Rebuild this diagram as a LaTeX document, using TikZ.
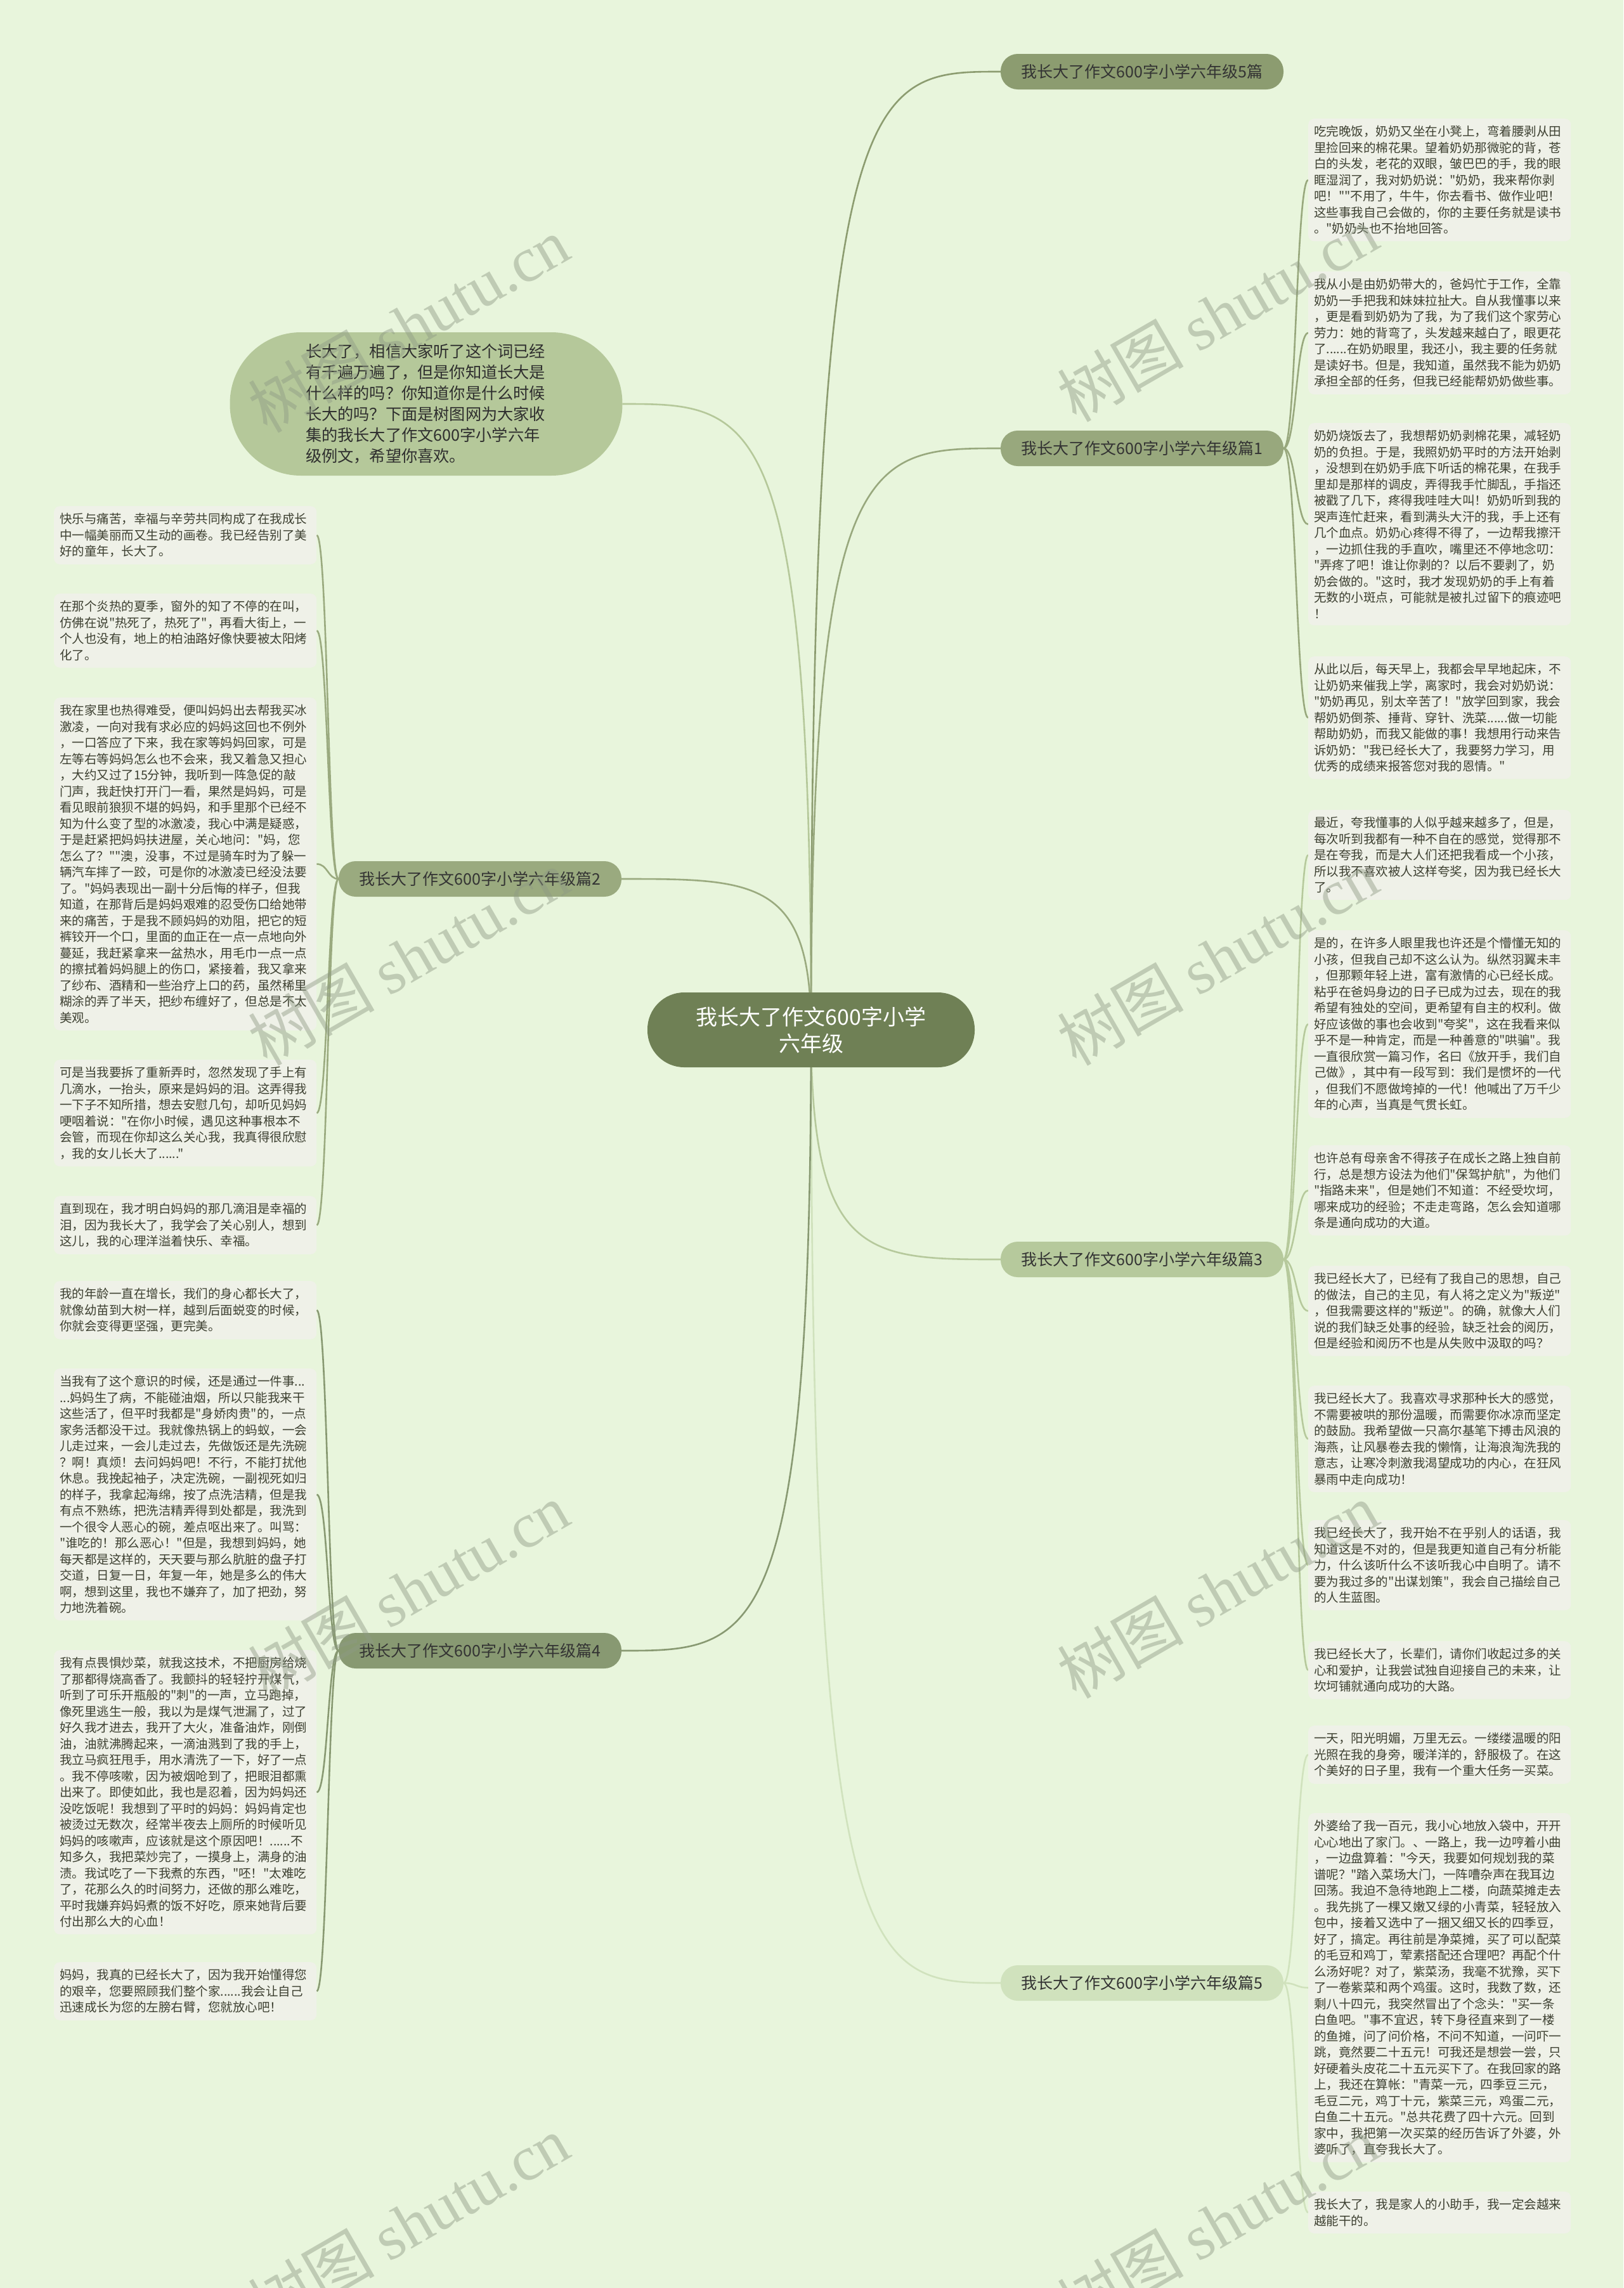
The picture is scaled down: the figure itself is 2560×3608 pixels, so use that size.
\documentclass[tikz,border=0pt]{standalone}
\usepackage{fontspec}
\setmainfont{Noto Sans CJK SC}[Ligatures=TeXOff]
\newfontfamily\wmlatin{Liberation Serif}
\usetikzlibrary{backgrounds}
\definecolor{bgc}{HTML}{E8F5DC}
\definecolor{leaffill}{HTML}{EFF1E8}
\definecolor{leaftext}{HTML}{3D4031}
\definecolor{rootfill}{HTML}{6F8055}
\definecolor{introfill}{HTML}{B5C89A}
\definecolor{gfivetop}{HTML}{8C9C70}
\definecolor{gone}{HTML}{98A87D}
\definecolor{gtwo}{HTML}{9AAA7F}
\definecolor{gfour}{HTML}{889972}
\definecolor{gthree}{HTML}{B6C99C}
\definecolor{gfive}{HTML}{D0E2BD}
\definecolor{wmc}{HTML}{8E9A84}
\begin{document}
\begin{tikzpicture}[x=1pt,y=-1pt,
  leaf/.style={fill=leaffill, rounded corners=9pt, text width=396pt, align=left,
    inner xsep=9pt, inner ysep=11pt, anchor=north west,
    font=\fontsize{19.5}{25.5}\selectfont, text=leaftext},
  branch/.style={fill=#1, rounded corners=27pt, minimum width=446pt, minimum height=56pt,
    inner sep=0pt, font=\fontsize{25}{30}\selectfont, text=black!80},
  link/.style={line width=2.6pt, draw=#1},
  wm/.style={rotate=30, text=wmc, opacity=0.45, font=\fontsize{100}{110}\selectfont}
]
\useasboundingbox (0,0) rectangle (2560,3608);

% ---------- central and first level ----------
\node[fill=rootfill, rounded corners=58pt, minimum width=516pt, minimum height=118pt,
  text=white, align=center, font=\fontsize{34}{42}\selectfont] (root) at (1279,1624)
  {我长大了作文600字小学\\六年级};

\node[fill=introfill, rounded corners=112pt, minimum width=619pt, minimum height=226pt,
  text width=380pt, align=left, text=black!82, font=\fontsize{25.2}{33}\selectfont] (intro) at (672,637)
  {长大了，相信大家听了这个词已经\\有千遍万遍了，但是你知道长大是\\什么样的吗？你知道你是什么时候\\长大的吗？下面是树图网为大家收\\集的我长大了作文600字小学六年\\级例文，希望你喜欢。};

\node[branch=gfivetop] (p5top) at (1801,113) {我长大了作文600字小学六年级5篇};
\node[branch=gone] (p1) at (1801,707) {我长大了作文600字小学六年级篇1};
\node[branch=gthree] (p3) at (1801,1986) {我长大了作文600字小学六年级篇3};
\node[branch=gfive] (p5) at (1801,3127) {我长大了作文600字小学六年级篇5};
\node[branch=gtwo] (p2) at (757,1386) {我长大了作文600字小学六年级篇2};
\node[branch=gfour] (p4) at (757,2603) {我长大了作文600字小学六年级篇4};

% ---------- right leaves: 篇1 ----------
\node[leaf] (a1) at (2063,187) {吃完晚饭，奶奶又坐在小凳上，弯着腰剥从田\\里捡回来的棉花果。望着奶奶那微驼的背，苍\\白的头发，老花的双眼，皱巴巴的手，我的眼\\眶湿润了，我对奶奶说："奶奶，我来帮你剥\\吧！""不用了，牛牛，你去看书、做作业吧！\\这些事我自己会做的，你的主要任务就是读书\\。"奶奶头也不抬地回答。};
\node[leaf] (a2) at (2063,428) {我从小是由奶奶带大的，爸妈忙于工作，全靠\\奶奶一手把我和妹妹拉扯大。自从我懂事以来\\，更是看到奶奶为了我，为了我们这个家劳心\\劳力：她的背弯了，头发越来越白了，眼更花\\了......在奶奶眼里，我还小，我主要的任务就\\是读好书。但是，我知道，虽然我不能为奶奶\\承担全部的任务，但我已经能帮奶奶做些事。};
\node[leaf] (a3) at (2063,667) {奶奶烧饭去了，我想帮奶奶剥棉花果，减轻奶\\奶的负担。于是，我照奶奶平时的方法开始剥\\，没想到在奶奶手底下听话的棉花果，在我手\\里却是那样的调皮，弄得我手忙脚乱，手指还\\被戳了几下，疼得我哇哇大叫！奶奶听到我的\\哭声连忙赶来，看到满头大汗的我，手上还有\\几个血点。奶奶心疼得不得了，一边帮我擦汗\\，一边抓住我的手直吹，嘴里还不停地念叨：\\"弄疼了吧！谁让你剥的？以后不要剥了，奶\\奶会做的。"这时，我才发现奶奶的手上有着\\无数的小斑点，可能就是被扎过留下的痕迹吧\\！};
\node[leaf] (a4) at (2063,1035) {从此以后，每天早上，我都会早早地起床，不\\让奶奶来催我上学，离家时，我会对奶奶说：\\"奶奶再见，别太辛苦了！"放学回到家，我会\\帮奶奶倒茶、捶背、穿针、洗菜......做一切能\\帮助奶奶，而我又能做的事！我想用行动来告\\诉奶奶："我已经长大了，我要努力学习，用\\优秀的成绩来报答您对我的恩情。"};

% ---------- right leaves: 篇3 ----------
\node[leaf] (b1) at (2063,1277) {最近，夸我懂事的人似乎越来越多了，但是，\\每次听到我都有一种不自在的感觉，觉得那不\\是在夸我，而是大人们还把我看成一个小孩，\\所以我不喜欢被人这样夸奖，因为我已经长大\\了。};
\node[leaf] (b2) at (2063,1467) {是的，在许多人眼里我也许还是个懵懂无知的\\小孩，但我自己却不这么认为。纵然羽翼未丰\\，但那颗年轻上进，富有激情的心已经长成。\\粘乎在爸妈身边的日子已成为过去，现在的我\\希望有独处的空间，更希望有自主的权利。做\\好应该做的事也会收到"夸奖"，这在我看来似\\乎不是一种肯定，而是一种善意的"哄骗"。我\\一直很欣赏一篇习作，名曰《放开手，我们自\\己做》，其中有一段写到：我们是惯坏的一代\\，但我们不愿做垮掉的一代！他喊出了万千少\\年的心声，当真是气贯长虹。};
\node[leaf] (b3) at (2063,1806) {也许总有母亲舍不得孩子在成长之路上独自前\\行，总是想方设法为他们"保驾护航"，为他们\\"指路未来"，但是她们不知道：不经受坎坷，\\哪来成功的经验；不走走弯路，怎么会知道哪\\条是通向成功的大道。};
\node[leaf] (b4) at (2063,1996) {我已经长大了，已经有了我自己的思想，自己\\的做法，自己的主见，有人将之定义为"叛逆"\\，但我需要这样的"叛逆"。的确，就像大人们\\说的我们缺乏处事的经验，缺乏社会的阅历，\\但是经验和阅历不也是从失败中汲取的吗？};
\node[leaf] (b5) at (2063,2185) {我已经长大了。我喜欢寻求那种长大的感觉，\\不需要被哄的那份温暖，而需要你冰凉而坚定\\的鼓励。我希望做一只高尔基笔下搏击风浪的\\海燕，让风暴卷去我的懒惰，让海浪淘洗我的\\意志，让寒冷刺激我渴望成功的内心，在狂风\\暴雨中走向成功！};
\node[leaf] (b6) at (2063,2397) {我已经长大了，我开始不在乎别人的话语，我\\知道这是不对的，但是我更知道自己有分析能\\力，什么该听什么不该听我心中自明了。请不\\要为我过多的"出谋划策"，我会自己描绘自己\\的人生蓝图。};
\node[leaf] (b7) at (2063,2588) {我已经长大了，长辈们，请你们收起过多的关\\心和爱护，让我尝试独自迎接自己的未来，让\\坎坷铺就通向成功的大路。};

% ---------- right leaves: 篇5 ----------
\node[leaf] (c1) at (2063,2721) {一天，阳光明媚，万里无云。一缕缕温暖的阳\\光照在我的身旁，暖洋洋的，舒服极了。在这\\个美好的日子里，我有一个重大任务一买菜。};
\node[leaf] (c2) at (2063,2859) {外婆给了我一百元，我小心地放入袋中，开开\\心心地出了家门。、一路上，我一边哼着小曲\\，一边盘算着："今天，我要如何规划我的菜\\谱呢？"踏入菜场大门，一阵嘈杂声在我耳边\\回荡。我迫不急待地跑上二楼，向蔬菜摊走去\\。我先挑了一棵又嫩又绿的小青菜，轻轻放入\\包中，接着又选中了一捆又细又长的四季豆，\\好了，搞定。再往前是净菜摊，买了可以配菜\\的毛豆和鸡丁，荤素搭配还合理吧？再配个什\\么汤好呢？对了，紫菜汤，我毫不犹豫，买下\\了一卷紫菜和两个鸡蛋。这时，我数了数，还\\剩八十四元，我突然冒出了个念头："买一条\\白鱼吧。"事不宜迟，转下身径直来到了一楼\\的鱼摊，问了问价格，不问不知道，一问吓一\\跳，竟然要二十五元！可我还是想尝一尝，只\\好硬着头皮花二十五元买下了。在我回家的路\\上，我还在算帐："青菜一元，四季豆三元，\\毛豆二元，鸡丁十元，紫菜三元，鸡蛋二元，\\白鱼二十五元。"总共花费了四十六元。回到\\家中，我把第一次买菜的经历告诉了外婆，外\\婆听了，直夸我长大了。};
\node[leaf] (c3) at (2063,3456) {我长大了，我是家人的小助手，我一定会越来\\越能干的。};

% ---------- left leaves: 篇2 ----------
\node[leaf] (d1) at (85,798) {快乐与痛苦，幸福与辛劳共同构成了在我成长\\中一幅美丽而又生动的画卷。我已经告别了美\\好的童年，长大了。};
\node[leaf] (d2) at (85,936) {在那个炎热的夏季，窗外的知了不停的在叫，\\仿佛在说"热死了，热死了"，再看大街上，一\\个人也没有，地上的柏油路好像快要被太阳烤\\化了。};
\node[leaf] (d3) at (85,1100) {我在家里也热得难受，便叫妈妈出去帮我买冰\\激凌，一向对我有求必应的妈妈这回也不例外\\，一口答应了下来，我在家等妈妈回家，可是\\左等右等妈妈怎么也不会来，我又着急又担心\\，大约又过了15分钟，我听到一阵急促的敲\\门声，我赶快打开门一看，果然是妈妈，可是\\看见眼前狼狈不堪的妈妈，和手里那个已经不\\知为什么变了型的冰激凌，我心中满是疑惑，\\于是赶紧把妈妈扶进屋，关心地问："妈，您\\怎么了？""澳，没事，不过是骑车时为了躲一\\辆汽车摔了一跤，可是你的冰激凌已经没法要\\了。"妈妈表现出一副十分后悔的样子，但我\\知道，在那背后是妈妈艰难的忍受伤口给她带\\来的痛苦，于是我不顾妈妈的劝阻，把它的短\\裤铰开一个口，里面的血正在一点一点地向外\\蔓延，我赶紧拿来一盆热水，用毛巾一点一点\\的擦拭着妈妈腿上的伤口，紧接着，我又拿来\\了纱布、酒精和一些治疗上口的药，虽然稀里\\糊涂的弄了半天，把纱布缠好了，但总是不太\\美观。};
\node[leaf] (d4) at (85,1671) {可是当我要拆了重新弄时，忽然发现了手上有\\几滴水，一抬头，原来是妈妈的泪。这弄得我\\一下子不知所措，想去安慰几句，却听见妈妈\\哽咽着说："在你小时候，遇见这种事根本不\\会管，而现在你却这么关心我，我真得很欣慰\\，我的女儿长大了......"};
\node[leaf] (d5) at (85,1886) {直到现在，我才明白妈妈的那几滴泪是幸福的\\泪，因为我长大了，我学会了关心别人，想到\\这儿，我的心理洋溢着快乐、幸福。};

% ---------- left leaves: 篇4 ----------
\node[leaf] (e1) at (85,2020) {我的年龄一直在增长，我们的身心都长大了，\\就像幼苗到大树一样，越到后面蜕变的时候，\\你就会变得更坚强，更完美。};
\node[leaf] (e2) at (85,2158) {当我有了这个意识的时候，还是通过一件事...\\...妈妈生了病，不能碰油烟，所以只能我来干\\这些活了，但平时我都是"身娇肉贵"的，一点\\家务活都没干过。我就像热锅上的蚂蚁，一会\\儿走过来，一会儿走过去，先做饭还是先洗碗\\？啊！真烦！去问妈妈吧！不行，不能打扰他\\休息。我挽起袖子，决定洗碗，一副视死如归\\的样子，我拿起海绵，按了点洗洁精，但是我\\有点不熟练，把洗洁精弄得到处都是，我洗到\\一个很令人恶心的碗，差点呕出来了。叫骂：\\"谁吃的！那么恶心！"但是，我想到妈妈，她\\每天都是这样的，天天要与那么肮脏的盘子打\\交道，日复一日，年复一年，她是多么的伟大\\啊，想到这里，我也不嫌弃了，加了把劲，努\\力地洗着碗。};
\node[leaf] (e3) at (85,2602) {我有点畏惧炒菜，就我这技术，不把厨房给烧\\了那都得烧高香了。我颤抖的轻轻拧开煤气，\\听到了可乐开瓶般的"刺"的一声，立马跑掉，\\像死里逃生一般，我以为是煤气泄漏了，过了\\好久我才进去，我开了大火，准备油炸，刚倒\\油，油就沸腾起来，一滴油溅到了我的手上，\\我立马疯狂甩手，用水清洗了一下，好了一点\\。我不停咳嗽，因为被烟呛到了，把眼泪都熏\\出来了。即使如此，我也是忍着，因为妈妈还\\没吃饭呢！我想到了平时的妈妈：妈妈肯定也\\被烫过无数次，经常半夜去上厕所的时候听见\\妈妈的咳嗽声，应该就是这个原因吧！......不\\知多久，我把菜炒完了，一摸身上，满身的油\\渍。我试吃了一下我煮的东西，"呸！"太难吃\\了，花那么久的时间努力，还做的那么难吃，\\平时我嫌弃妈妈煮的饭不好吃，原来她背后要\\付出那么大的心血！};
\node[leaf] (e4) at (85,3094) {妈妈，我真的已经长大了，因为我开始懂得您\\的艰辛，您要照顾我们整个家......我会让自己\\迅速成长为您的左膀右臂，您就放心吧！};

% ---------- connectors ----------
\coordinate (xr) at (2044,0);
\coordinate (xl) at (517,0);
\coordinate (xc) at (1279,0);
\coordinate (xcr) at (1369,0);
\coordinate (xcl) at (1189,0);
\begin{scope}[on background layer]
\fill[bgc] (0,0) rectangle (2560,3608);
\draw[link=introfill] (root.center) .. controls (xc |- intro.east) and (xcl |- intro.east) .. (intro.east);
\draw[link=gfivetop] (root.center) .. controls (xc |- p5top.west) and (xcr |- p5top.west) .. (p5top.west);
\draw[link=gone] (root.center) .. controls (xc |- p1.west) and (xcr |- p1.west) .. (p1.west);
\draw[link=gthree] (root.center) .. controls (xc |- p3.west) and (xcr |- p3.west) .. (p3.west);
\draw[link=gfive] (root.center) .. controls (xc |- p5.west) and (xcr |- p5.west) .. (p5.west);
\draw[link=gtwo] (root.center) .. controls (xc |- p2.east) and (xcl |- p2.east) .. (p2.east);
\draw[link=gfour] (root.center) .. controls (xc |- p4.east) and (xcl |- p4.east) .. (p4.east);
\foreach \c in {a1,a2,a3,a4}
  \draw[link=gone] (p1.east) .. controls (xr |- p1.east) and (xr |- \c.west) .. (\c.west);
\foreach \c in {b1,b2,b3,b4,b5,b6,b7}
  \draw[link=gthree] (p3.east) .. controls (xr |- p3.east) and (xr |- \c.west) .. (\c.west);
\foreach \c in {c1,c2,c3}
  \draw[link=gfive] (p5.east) .. controls (xr |- p5.east) and (xr |- \c.west) .. (\c.west);
\foreach \c in {d1,d2,d3,d4,d5}
  \draw[link=gtwo] (p2.west) .. controls (xl |- p2.west) and (xl |- \c.east) .. (\c.east);
\foreach \c in {e1,e2,e3,e4}
  \draw[link=gfour] (p4.west) .. controls (xl |- p4.west) and (xl |- \c.east) .. (\c.east);
\end{scope}

% ---------- watermarks ----------
\foreach \i/\wx/\wy in {1/644/512,2/1920/495,3/644/1510,4/1920/1510,5/644/2508,6/1920/2508,7/644/3506,8/1920/3506}
  \node[wm] (wm\i) at (\wx,\wy) {树图 {\wmlatin shutu.cn}};
\end{tikzpicture}
\end{document}
